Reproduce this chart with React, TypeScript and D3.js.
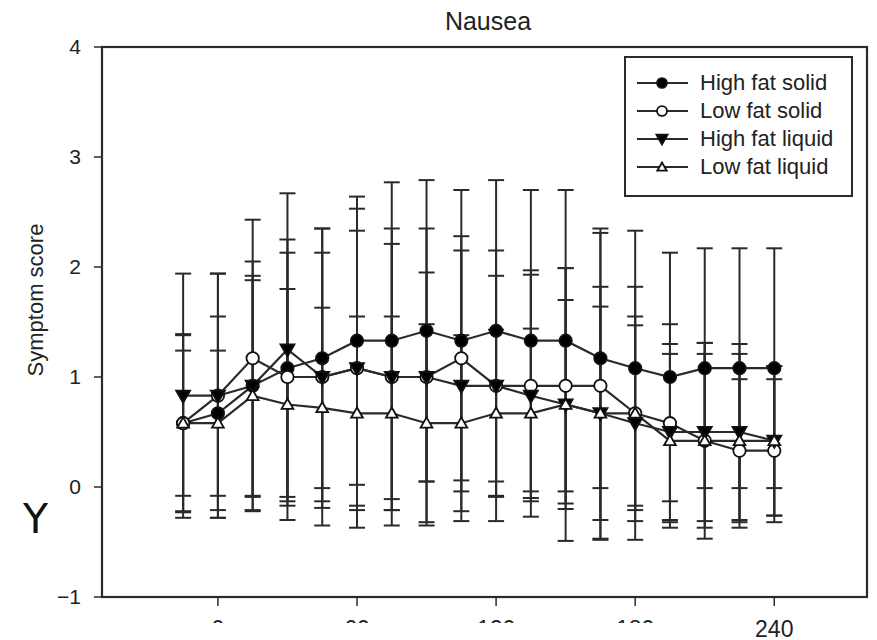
import React from "react";
import * as d3 from "d3";

const times = [-15, 0, 15, 30, 45, 60, 75, 90, 105, 120, 135, 150, 165, 180, 195, 210, 225, 240];

const highFatSolid = [0.58, 0.67, 0.92, 1.08, 1.17, 1.33, 1.33, 1.42, 1.33, 1.42, 1.33, 1.33, 1.17, 1.08, 1.0, 1.08, 1.08, 1.08];
const highFatSolidSD = [0.81, 0.88, 1.13, 1.17, 1.18, 1.31, 1.44, 1.37, 1.37, 1.37, 1.37, 1.37, 1.18, 1.25, 1.13, 1.09, 1.09, 1.09];

const lowFatSolid = [0.58, 0.83, 1.17, 1.0, 1.0, 1.08, 1.0, 1.0, 1.17, 0.92, 0.92, 0.92, 0.92, 0.67, 0.58, 0.42, 0.33, 0.33];
const lowFatSolidSD = [0.8, 1.11, 1.26, 1.13, 1.35, 1.45, 1.35, 1.35, 1.11, 1.23, 1.05, 1.07, 1.39, 1.15, 0.9, 0.89, 0.65, 0.65];

const highFatLiquid = [0.83, 0.83, 0.92, 1.25, 1.0, 1.08, 1.0, 1.0, 0.92, 0.92, 0.83, 0.75, 0.67, 0.58, 0.5, 0.5, 0.5, 0.42];
const highFatLiquidSD = [1.11, 1.11, 1.0, 1.42, 1.13, 1.25, 1.21, 0.95, 1.23, 1.0, 1.1, 1.24, 1.15, 0.89, 0.8, 0.81, 0.8, 0.68];

const lowFatLiquid = [0.58, 0.58, 0.83, 0.75, 0.72, 0.67, 0.67, 0.58, 0.58, 0.67, 0.67, 0.75, 0.67, 0.67, 0.42, 0.42, 0.42, 0.42];
const lowFatLiquidSD = [0.66, 0.66, 1.05, 1.05, 0.91, 0.88, 0.88, 0.9, 0.8, 0.76, 0.77, 0.95, 0.97, 0.88, 0.79, 0.79, 0.79, 0.68];

const seriesNames = ["High fat solid", "Low fat solid", "High fat liquid", "Low fat liquid"];
const xTicks = [0, 60, 120, 180, 240];
const yTicks = [-1, 0, 1, 2, 3, 4];
const title = "Nausea";
const yLabel = "Symptom score";

type Series = { name: string; mean: number[]; sd: number[]; marker: "fcircle" | "ocircle" | "ftri" | "otri" };

const series: Series[] = [
  { name: seriesNames[0], mean: highFatSolid, sd: highFatSolidSD, marker: "fcircle" },
  { name: seriesNames[1], mean: lowFatSolid, sd: lowFatSolidSD, marker: "ocircle" },
  { name: seriesNames[2], mean: highFatLiquid, sd: highFatLiquidSD, marker: "ftri" },
  { name: seriesNames[3], mean: lowFatLiquid, sd: lowFatLiquidSD, marker: "otri" },
];

const W = 877;
const H = 640;
const left = 102;
const right = 867;
const top = 47;
const bottom = 597;

const FONT = "'Liberation Sans', Arial, Helvetica, sans-serif";
const INK = "#2a2a2a";

function Marker({ kind, x, y, scale = 1 }: { kind: Series["marker"]; x: number; y: number; scale?: number }) {
  if (kind === "fcircle" || kind === "ocircle") {
    return (
      <circle
        cx={x}
        cy={y}
        r={6.2 * scale}
        fill={kind === "fcircle" ? "#000" : "#fff"}
        stroke="#111"
        strokeWidth={1.8}
      />
    );
  }
  const path = d3.symbol(d3.symbolTriangle, (kind === "ftri" ? 85 : 60) * scale * scale)() as string;
  const rot = kind === "ftri" ? 180 : 0;
  return (
    <path
      d={path}
      transform={`translate(${x},${y + (kind === "ftri" ? -1 : 1)}) rotate(${rot})`}
      fill={kind === "ftri" ? "#000" : "#fff"}
      stroke="#111"
      strokeWidth={1.8}
    />
  );
}

export default function App() {
  const x = d3.scaleLinear().domain([-50, 280]).range([left, right]);
  const y = d3.scaleLinear().domain([-1, 4]).range([bottom, top]);
  const line = d3
    .line<number>()
    .x((_, i) => x(times[i]))
    .y((d) => y(d));
  const capW = 8;

  const legendRows = [83, 111, 139, 167];

  return (
    <svg
      width={W}
      height={H}
      viewBox={`0 0 ${W} ${H}`}
      style={{ position: "absolute", left: 0, top: 0, background: "#fff" }}
      fontFamily={FONT}
    >
      <defs>
        <clipPath id="cutLabels">
          <rect x={0} y={0} width={W} height={623} />
        </clipPath>
      </defs>
      <rect x={0} y={0} width={W} height={H} fill="#fff" />

      {/* Title */}
      <text x={488} y={30} textAnchor="middle" fontSize={25} fill="#222">
        {title}
      </text>

      {/* Y axis label */}
      <text
        transform={`translate(43,300) rotate(-90)`}
        textAnchor="middle"
        fontSize={22}
        fill="#222"
      >
        {yLabel}
      </text>

      {/* Stray Y */}
      <text x={23} y={533} fontSize={41} fill="#111" fontFamily="'DejaVu Sans', sans-serif">
        Y
      </text>

      {/* Y ticks */}
      {yTicks.map((t) => (
        <g key={`yt${t}`}>
          <line x1={left - 8} x2={left} y1={y(t)} y2={y(t)} stroke={INK} strokeWidth={1.5} />
          <text x={left - 21} y={y(t) + 7} textAnchor="end" fontSize={21} fill="#222">
            {t < 0 ? `\u2212${Math.abs(t)}` : String(t)}
          </text>
        </g>
      ))}

      {/* X ticks */}
      {xTicks.map((t) => (
        <g key={`xt${t}`}>
          <line x1={x(t)} x2={x(t)} y1={bottom} y2={bottom + 9} stroke={INK} strokeWidth={1.5} />
          <text
            x={x(t)}
            y={637}
            textAnchor="middle"
            fontSize={23}
            fill="#222"
            clipPath={t === 240 ? undefined : "url(#cutLabels)"}
          >
            {String(t)}
          </text>
        </g>
      ))}

      {/* Error bars */}
      {series.map((s, si) => (
        <g key={`eb${si}`} stroke={INK} strokeWidth={2}>
          {s.mean.map((m, i) => {
            const cx = x(times[i]);
            const y1 = y(m + s.sd[i]);
            const y2 = y(m - s.sd[i]);
            return (
              <g key={i}>
                <line x1={cx} x2={cx} y1={y1} y2={y2} />
                <line x1={cx - capW} x2={cx + capW} y1={y1} y2={y1} />
                <line x1={cx - capW} x2={cx + capW} y1={y2} y2={y2} />
              </g>
            );
          })}
        </g>
      ))}

      {/* Lines + markers */}
      {series.map((s, si) => (
        <g key={`ln${si}`}>
          <path d={line(s.mean) as string} fill="none" stroke={INK} strokeWidth={2.2} />
        </g>
      ))}
      {series.map((s, si) => (
        <g key={`mk${si}`}>
          {s.mean.map((m, i) => (
            <Marker key={i} kind={s.marker} x={x(times[i])} y={y(m)} />
          ))}
        </g>
      ))}

      {/* Frame */}
      <rect x={left} y={top} width={right - left} height={bottom - top} fill="none" stroke={INK} strokeWidth={2.2} />

      {/* Legend */}
      <rect x={625} y={57} width={227} height={139} fill="#fff" stroke={INK} strokeWidth={2} />
      {series.map((s, i) => (
        <g key={`lg${i}`}>
          <line x1={637} x2={688} y1={legendRows[i]} y2={legendRows[i]} stroke={INK} strokeWidth={2.2} />
          <Marker kind={s.marker} x={662} y={legendRows[i]} scale={0.8} />
          <text x={700} y={legendRows[i] + 7} fontSize={22} fill="#222">
            {s.name}
          </text>
        </g>
      ))}
    </svg>
  );
}
